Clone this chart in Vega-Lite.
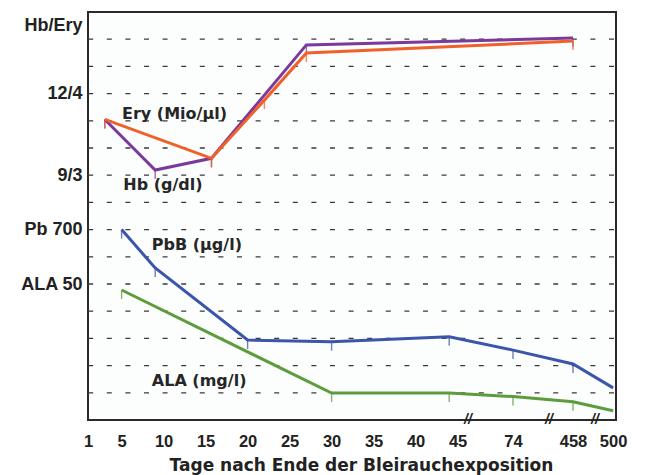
{
  "$schema": "https://vega.github.io/schema/vega-lite/v6.json",
  "width": 528,
  "height": 408,
  "autosize": "none",
  "padding": {"left": 88, "top": 12, "right": 29, "bottom": 55},
  "background": "white",
  "config": {
    "view": {"stroke": "#2a2a2a", "strokeWidth": 2, "fill": "#fcfdfd"}
  },
  "datasets": {
    "series": [
      {"series": "Hb", "day": 3, "v": 11.05},
      {"series": "Hb", "day": 9, "v": 9.19},
      {"series": "Hb", "day": 15.7, "v": 9.62},
      {"series": "Hb", "day": 27, "v": 13.79},
      {"series": "Hb", "day": 458, "v": 14.04},
      {"series": "Ery", "day": 3, "v": 11.05},
      {"series": "Ery", "day": 15.7, "v": 9.62},
      {"series": "Ery", "day": 22, "v": 11.76},
      {"series": "Ery", "day": 27, "v": 13.49},
      {"series": "Ery", "day": 458, "v": 13.93},
      {"series": "PbB", "day": 5, "v": 7.0},
      {"series": "PbB", "day": 9, "v": 5.59},
      {"series": "PbB", "day": 20, "v": 2.94},
      {"series": "PbB", "day": 30, "v": 2.88},
      {"series": "PbB", "day": 44, "v": 3.06},
      {"series": "PbB", "day": 74, "v": 2.57},
      {"series": "PbB", "day": 458, "v": 2.06},
      {"series": "PbB", "day": 500, "v": 1.18},
      {"series": "ALA", "day": 5, "v": 4.78},
      {"series": "ALA", "day": 30, "v": 0.99},
      {"series": "ALA", "day": 44, "v": 0.99},
      {"series": "ALA", "day": 74, "v": 0.86},
      {"series": "ALA", "day": 458, "v": 0.67},
      {"series": "ALA", "day": 500, "v": 0.34}
    ],
    "grid": [
      {"g": 1}, {"g": 2}, {"g": 3}, {"g": 4}, {"g": 5}, {"g": 6}, {"g": 7},
      {"g": 8}, {"g": 9}, {"g": 10}, {"g": 11}, {"g": 12}, {"g": 13}, {"g": 14}
    ],
    "notes": [
      {"text": "Ery (Mio/µl)", "day": 5.05, "v": 11.25},
      {"text": "Hb (g/dl)", "day": 5.2, "v": 8.64},
      {"text": "PbB (µg/l)", "day": 8.6, "v": 6.43},
      {"text": "ALA (mg/l)", "day": 8.6, "v": 1.42}
    ],
    "breaks": [
      {"day": 50.4, "v": 0},
      {"day": 304, "v": 0},
      {"day": 481, "v": 0}
    ]
  },
  "layer": [
    {
      "data": {"name": "grid"},
      "mark": {"type": "rule", "stroke": "#3a3a3a", "strokeWidth": 1.3, "strokeDash": [5, 13.6], "strokeDashOffset": -2},
      "encoding": {
        "y": {
          "field": "g",
          "type": "quantitative",
          "scale": {"domain": [0, 15], "nice": false, "zero": false},
          "axis": {
            "title": null,
            "values": [5, 7, 9, 12, 14.5],
            "labelExpr": "datum.value == 14.5 ? 'Hb/Ery' : datum.value == 12 ? '12/4' : datum.value == 9 ? '9/3' : datum.value == 7 ? 'Pb 700' : 'ALA 50'",
            "ticks": false,
            "domain": false,
            "grid": false,
            "labelFont": "Liberation Sans",
            "labelFontWeight": "bold",
            "labelFontSize": 18,
            "labelColor": "#222222",
            "labelPadding": 6,
            "labelOverlap": false
          }
        }
      }
    },
    {
      "data": {"name": "series"},
      "transform": [{"filter": "datum.day < 500"}],
      "mark": {"type": "rule", "strokeWidth": 1.4, "opacity": 0.75, "y2Offset": 9},
      "encoding": {
        "x": {"field": "day", "type": "quantitative"},
        "y": {"field": "v", "type": "quantitative"},
        "y2": {"field": "v"},
        "color": {"field": "series", "type": "nominal", "legend": null,
          "scale": {"domain": ["Hb", "Ery", "PbB", "ALA"], "range": ["#7b3a9b", "#f0602a", "#3a55aa", "#5c9c3c"]}}
      }
    },
    {
      "data": {"name": "series"},
      "mark": {"type": "line", "strokeWidth": 3, "strokeJoin": "miter"},
      "encoding": {
        "x": {
          "field": "day",
          "type": "quantitative",
          "scale": {"domain": [1, 45, 74, 458, 503], "range": [0, 369.6, 425, 485, 528], "nice": false, "zero": false},
          "axis": {
            "title": "Tage nach Ende der Bleirauchexposition",
            "values": [1, 5, 10, 15, 20, 25, 30, 35, 40, 45, 74, 458, 500],
            "ticks": false,
            "domain": false,
            "grid": false,
            "labelFlush": false,
            "labelOverlap": false,
            "labelFont": "Liberation Sans",
            "labelFontWeight": "bold",
            "labelFontSize": 16.5,
            "labelColor": "#222222",
            "labelPadding": 13,
            "titleFont": "DejaVu Sans",
            "titleFontWeight": "bold",
            "titleFontSize": 17,
            "titleColor": "#222222",
            "titleX": 273,
            "titleY": 45,
            "titleBaseline": "middle"
          }
        },
        "y": {"field": "v", "type": "quantitative"},
        "color": {"field": "series", "type": "nominal", "legend": null},
        "detail": {"field": "series"}
      }
    },
    {
      "data": {"name": "notes"},
      "mark": {"type": "text", "align": "left", "baseline": "middle", "font": "DejaVu Sans", "fontWeight": "bold", "fontSize": 16, "color": "#262626"},
      "encoding": {
        "x": {"field": "day", "type": "quantitative"},
        "y": {"field": "v", "type": "quantitative"},
        "text": {"field": "text"}
      }
    },
    {
      "data": {"name": "breaks"},
      "mark": {"type": "text", "text": "//", "align": "center", "baseline": "middle", "font": "Liberation Sans", "fontWeight": "bold", "fontStyle": "italic", "fontSize": 14, "color": "#222222"},
      "encoding": {
        "x": {"field": "day", "type": "quantitative"},
        "y": {"field": "v", "type": "quantitative"}
      }
    }
  ]
}
